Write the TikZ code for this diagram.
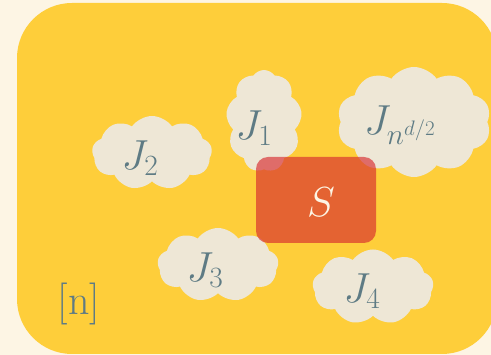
\RequirePackage{fix-cm}
\documentclass[tikz,border=0pt]{standalone}
\usetikzlibrary{shapes.symbols,calc}
\definecolor{bg}{HTML}{FDF5E4}
\definecolor{yel}{HTML}{FECE3A}
\definecolor{cl}{HTML}{EEE7D6}
\definecolor{txt}{HTML}{5E7B84}
\definecolor{sred}{HTML}{D72B2F}
\begin{document}
\begin{tikzpicture}[x=1pt,y=-1pt,
  cloudbox/.style={cloud, cloud puffs=#1, cloud puff arc=110, cloud ignores aspect, fill=cl, draw=none, inner sep=0pt},
  mtext/.style={text=txt, inner sep=0pt, font=\fontsize{42}{46}\selectfont},
  setbox/.style={fill=sred, fill opacity=0.65, text opacity=1, rounded corners=12pt,
    minimum width=120pt, minimum height=86pt, inner sep=0pt},
  lbl/.style={text=txt, inner sep=0pt, font=\fontsize{42}{46}\selectfont}
]
\fill[bg] (0,0) rectangle (491,355);
\useasboundingbox (0,0) rectangle (491,355);
\fill[yel, rounded corners=55pt] (17,3) rectangle (497,354);
\node[cloudbox=9, minimum width=120pt, minimum height=74pt] (J2) at (152,153) {};
\node[cloudbox=9, minimum width=76pt, minimum height=102pt] (J1) at (264,121) {};
\node[cloudbox=10, minimum width=154pt, minimum height=110pt] (Jn) at (414,122) {};
\node[cloudbox=9, minimum width=121pt, minimum height=74pt] (J3) at (218,265) {};
\node[cloudbox=9, minimum width=121pt, minimum height=75pt] (J4) at (373,287) {};
\node[mtext] (t2) at ($(J2)+(-12,5)$) {$J_2$};
\node[mtext] (t1) at ($(J1)+(-10,7)$) {$J_1$};
\node[mtext] (tn) at ($(Jn)+(-14,3)$) {$J_{n^{d/2}}$};
\node[mtext] (t3) at ($(J3)+(-13,5)$) {$J_3$};
\node[mtext] (t4) at ($(J4)+(-11,4)$) {$J_4$};
\node[setbox] (S) at (316,200) {};
\node[mtext, text=bg] (tS) at ($(S)+(5,2)$) {$S$};
\node[lbl] (N) at (79,304) {[n]};
\end{tikzpicture}
\end{document}
